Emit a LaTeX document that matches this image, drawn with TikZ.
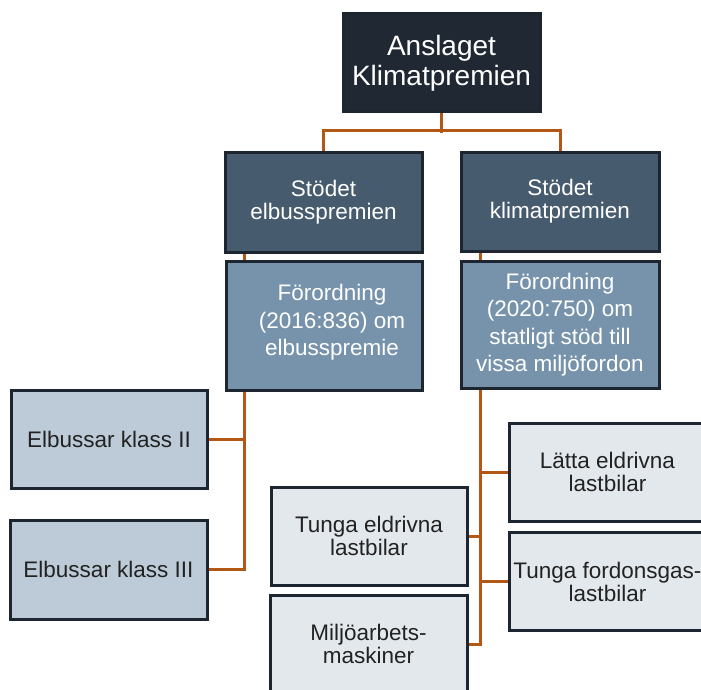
\documentclass[tikz,border=0pt]{standalone}
\usepackage{fontspec}
\setmainfont{Liberation Sans}
\usetikzlibrary{backgrounds}
\definecolor{cTop}{RGB}{31,40,51}
\definecolor{cMid}{RGB}{70,91,110}
\definecolor{cFor}{RGB}{118,147,171}
\definecolor{cBus}{RGB}{188,203,215}
\definecolor{cLight}{RGB}{227,232,237}
\definecolor{cBorder}{RGB}{28,37,48}
\definecolor{cConn}{RGB}{178,87,20}
\definecolor{cText}{RGB}{34,34,34}
\tikzset{
  box/.style={draw=cBorder, line width=3pt, inner sep=0pt, align=center},
  topbox/.style={box, fill=cTop, text=white, font=\fontsize{28}{30}\selectfont},
  midbox/.style={box, fill=cMid, text=white, font=\fontsize{22.5}{23}\selectfont},
  forbox/.style={box, fill=cFor, text=white, font=\fontsize{22.5}{27.5}\selectfont},
  busbox/.style={box, fill=cBus, text=cText, font=\fontsize{22.5}{23}\selectfont},
  lightbox/.style={box, fill=cLight, text=cText, font=\fontsize{22.5}{23}\selectfont},
  conn/.style={draw=cConn, line width=3pt}
}
\begin{document}
\begin{tikzpicture}[x=1pt,y=-1pt]
\useasboundingbox (0,0) rectangle (701,690);
\clip (0,0) rectangle (701,690);
\node[topbox, minimum width=197pt, minimum height=98pt] (top) at (441.5,63) {Anslaget\\Klimatpremien};
\node[midbox, minimum width=197pt, minimum height=100pt] (se) at (323.5,202) {Stödet\\elbusspremien};
\node[midbox, minimum width=198pt, minimum height=99pt] (sk) at (560,201.5) {Stödet\\klimatpremien};
\node[forbox, minimum width=196pt, minimum height=129pt] (fl) at (324,325.5) {};
\node[forbox, fill=none, draw=none] (fltext) at ([xshift=8pt,yshift=3pt]fl.center) {Förordning\\(2016:836) om\\elbusspremie};
\node[forbox, minimum width=198pt, minimum height=127pt] (fr) at (560,324.5) {Förordning\\(2020:750) om\\statligt stöd till\\vissa miljöfordon};
\node[busbox, minimum width=196pt, minimum height=98pt] (e2) at (109,439) {Elbussar klass II};
\node[busbox, minimum width=197pt, minimum height=99pt] (e3) at (108.5,569.5) {Elbussar klass III};
\node[lightbox, minimum width=197pt, minimum height=98pt] (lat) at (607.5,472) {Lätta eldrivna\\lastbilar};
\node[lightbox, minimum width=197pt, minimum height=98pt] (tfg) at (607.5,581.5) {Tunga fordonsgas-\\lastbilar};
\node[lightbox, minimum width=196pt, minimum height=98pt] (tel) at (369,536) {Tunga eldrivna\\lastbilar};
\node[lightbox, minimum width=197pt, minimum height=98pt] (mil) at (368.5,644) {Miljöarbets-\\maskiner};
\begin{scope}[on background layer]
\draw[conn] (top.south) -- ++(0,20);
\draw[conn] (se.north) -- ++(0,-20) -| (sk.north);
\draw[conn] ([xshift=21pt]se.south west) -- ([xshift=20pt]fl.north west);
\draw[conn] ([xshift=21pt]sk.south west) -- ([xshift=21pt]fr.north west);
\coordinate (fltrunk) at ([xshift=20pt]fl.south west);
\coordinate (frtrunk) at ([xshift=21pt]fr.south west);
\draw[conn] (fltrunk) |- (e3.east);
\draw[conn] (e2.east) -- (e2.east -| fltrunk);
\draw[conn] (frtrunk) |- (mil.east);
\draw[conn] (lat.west) -- (lat.west -| frtrunk);
\draw[conn] (tfg.west) -- (tfg.west -| frtrunk);
\draw[conn] (tel.east) -- (tel.east -| frtrunk);
\end{scope}
\end{tikzpicture}
\end{document}
